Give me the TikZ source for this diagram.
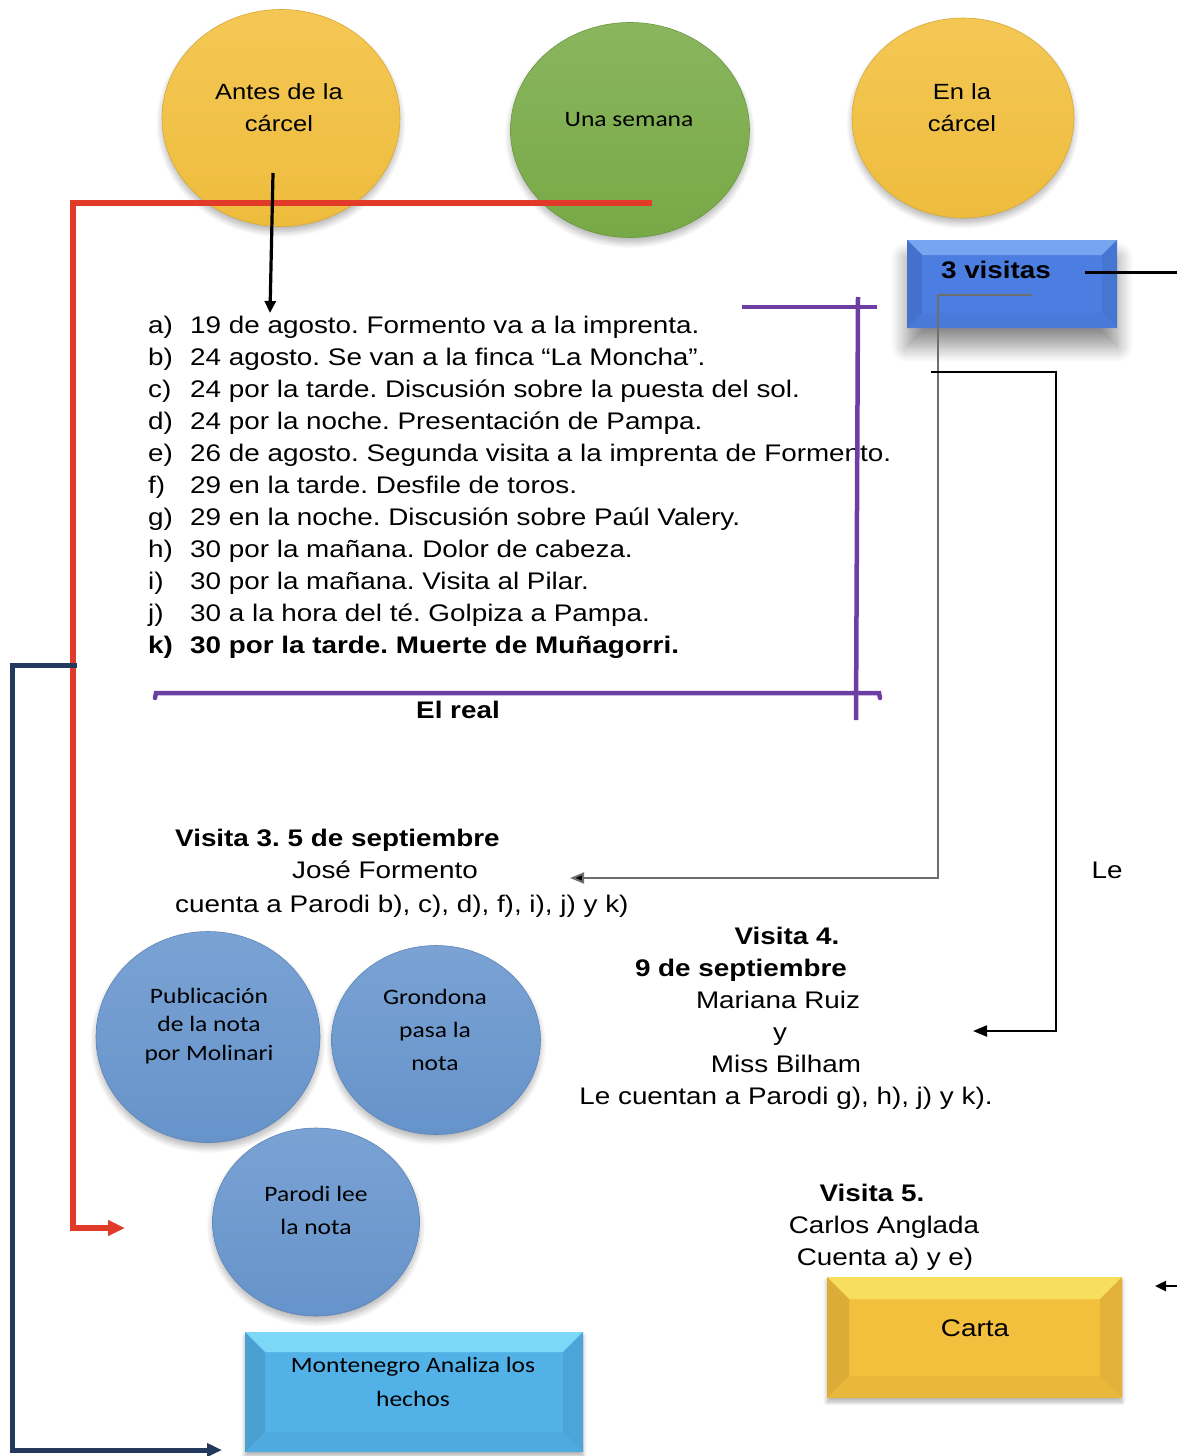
\documentclass[tikz,border=0pt]{standalone}
\usepackage{fontspec}
\setmainfont{Liberation Sans}[FakeStretch=1.16]
\newfontfamily\calib{Carlito}[FakeStretch=1.16]
\usetikzlibrary{shapes.geometric,arrows.meta,shadows.blur}
\frenchspacing

\definecolor{gold}{RGB}{243,192,62}
\definecolor{goldtop}{RGB}{247,222,92}
\definecolor{leaf}{RGB}{122,172,72}
\definecolor{royal}{RGB}{76,126,226}
\definecolor{royaltop}{RGB}{120,165,240}
\definecolor{steel}{RGB}{104,150,206}
\definecolor{sky}{RGB}{82,178,232}
\definecolor{skytop}{RGB}{125,216,248}
\definecolor{redln}{RGB}{226,58,40}
\definecolor{navy}{RGB}{36,57,94}
\definecolor{violet}{RGB}{108,62,164}
\definecolor{greyln}{RGB}{110,110,110}

\tikzset{
  orb/.style={ellipse, inner sep=0pt, draw=#1!88!black, line width=0.6pt,
    top color=#1!88!white, bottom color=#1!98!black,
    blur shadow={shadow xshift=0pt, shadow yshift=-5pt, shadow blur radius=6pt,
      shadow blur steps=8, shadow opacity=30}},
  bevel/.style n args={3}{rectangle, inner sep=0pt, fill=#1,
    path picture={
      \fill[#2] (path picture bounding box.north west) -- (path picture bounding box.north east)
        -- ([xshift=-#3,yshift=-#3]path picture bounding box.north east)
        -- ([xshift=#3,yshift=-#3]path picture bounding box.north west) -- cycle;
      \fill[#1!90!black] (path picture bounding box.north west)
        -- ([xshift=#3,yshift=-#3]path picture bounding box.north west)
        -- ([xshift=#3,yshift=#3]path picture bounding box.south west)
        -- (path picture bounding box.south west) -- cycle;
      \fill[#1!93!black] (path picture bounding box.north east)
        -- (path picture bounding box.south east)
        -- ([xshift=-#3,yshift=#3]path picture bounding box.south east)
        -- ([xshift=-#3,yshift=-#3]path picture bounding box.north east) -- cycle;
      \fill[#1!96!black] (path picture bounding box.south west)
        -- ([xshift=#3,yshift=#3]path picture bounding box.south west)
        -- ([xshift=-#3,yshift=#3]path picture bounding box.south east)
        -- (path picture bounding box.south east) -- cycle;
    }},
  txt/.style={inner sep=0pt, font=\fontsize{24}{32}\selectfont},
  btxt/.style={inner sep=0pt, font=\fontsize{24}{32}\selectfont\bfseries},
  otxt/.style={inner sep=0pt, align=center, font=\fontsize{22}{32}\selectfont},
  ctxt/.style={inner sep=0pt, align=center, font=\calib\fontsize{22}{#1}\selectfont},
  ctxt/.default=32,
  heavy/.style={line width=#1, line join=miter},
}

\begin{document}
\begin{tikzpicture}[x=1pt,y=-1pt]
\useasboundingbox (0,0) rectangle (1177,1456);

% --- phase circles ---
\node[orb=gold, minimum width=238pt, minimum height=217pt] (antes) at (281,118) {};
\node[orb=leaf, minimum width=239pt, minimum height=215pt] (semana) at (630,130) {};
\node[orb=gold, minimum width=222pt, minimum height=200pt] (enla) at (963,118) {};
\node[otxt] (antesT) at (279,108) {Antes de la\\cárcel};
\node[ctxt] (semanaT) at (629,120) {Una semana};
\node[otxt] (enlaT) at (962,108) {En la\\cárcel};

% --- 3 visitas box ---
\node[bevel={royal}{royaltop}{15pt}, minimum width=210pt, minimum height=88pt,
  blur shadow={shadow xshift=0pt, shadow yshift=-18pt, shadow blur radius=16pt,
  shadow blur steps=14, shadow opacity=45}] (visitas) at (1012,284) {};
\node[btxt, anchor=base] (visitasT) at (996,278) {3 visitas};

% --- list of events ---
\foreach \lab/\txt [count=\i from 0] in {
  a)/19 de agosto. Formento va a la imprenta.,
  b)/24 agosto. Se van a la finca “La Moncha”.,
  c)/24 por la tarde. Discusión sobre la puesta del sol.,
  d)/24 por la noche. Presentación de Pampa.,
  e)/26 de agosto. Segunda visita a la imprenta de Formento.,
  f)/29 en la tarde. Desfile de toros.,
  g)/29 en la noche. Discusión sobre Paúl Valery.,
  h)/30 por la mañana. Dolor de cabeza.,
  i)/30 por la mañana. Visita al Pilar.,
  j)/30 a la hora del té. Golpiza a Pampa.}
  \node[txt, anchor=base west] (item\i) at (148,{333+32*\i}) {\makebox[42pt][l]{\lab}\txt};
\node[btxt, anchor=base west] (itemk) at (148,653) {\makebox[42pt][l]{k)}30 por la tarde. Muerte de Muñagorri.};
\node[btxt, anchor=base] (real) at (458,718) {El real};

% --- visits ---
\node[btxt, anchor=base west] (v3a) at (175,846) {Visita 3. 5 de septiembre};
\node[txt, anchor=base] (v3b) at (385,878) {José Formento};
\node[txt, anchor=base west] (v3c) at (175,912) {cuenta a Parodi b), c), d), f), i), j) y k)};

\node[btxt, anchor=base] (v4a) at (787,944) {Visita 4.};
\node[btxt, anchor=base] (v4b) at (741,976) {9 de septiembre};
\node[txt, anchor=base] (v4c) at (778,1008) {Mariana Ruiz};
\node[txt, anchor=base] (v4d) at (780,1040) {y};
\node[txt, anchor=base] (v4e) at (786,1072) {Miss Bilham};
\node[txt, anchor=base] (v4f) at (786,1104) {Le cuentan a Parodi g), h), j) y k).};

\node[txt, anchor=base] (le) at (1107,878) {Le};

\node[btxt, anchor=base] (v5a) at (872,1201) {Visita 5.};
\node[txt, anchor=base] (v5b) at (884,1233) {Carlos Anglada};
\node[txt, anchor=base] (v5c) at (885,1265) {Cuenta a) y e)};

% --- note circles ---
\node[orb=steel, minimum width=224pt, minimum height=211pt] (publ) at (208,1037) {};
\node[orb=steel, minimum width=209pt, minimum height=189pt] (grond) at (436,1040) {};
\node[orb=steel, minimum width=207pt, minimum height=188pt] (parodi) at (316,1222) {};
\node[ctxt=28.5] (publT) at (209,1026) {Publicación\\de la nota\\por Molinari};
\node[ctxt=33] (grondT) at (435,1030) {Grondona\\pasa la\\nota};
\node[ctxt=33] (parodiT) at (316,1210) {Parodi lee\\la nota};

% --- bottom boxes ---
\node[bevel={sky}{skytop}{20pt}, minimum width=338pt, minimum height=120pt,
  blur shadow={shadow xshift=0pt, shadow yshift=-4pt, shadow blur radius=4pt,
  shadow blur steps=6, shadow opacity=30}] (monte) at (414,1392) {};
\node[ctxt=34] (monteT) at (413,1382) {Montenegro Analiza los\\hechos};

\node[bevel={gold}{goldtop}{22pt}, minimum width=295pt, minimum height=121pt,
  blur shadow={shadow xshift=0pt, shadow yshift=-4pt, shadow blur radius=4pt,
  shadow blur steps=6, shadow opacity=30}] (carta) at (974.5,1337.5) {};
\node[txt, anchor=base] (cartaT) at (975,1336) {Carta};

% --- connectors ---
\coordinate (redS) at (652,203);
\coordinate (redE) at (125,1228);
\draw[redln, heavy=6pt, -{Triangle[length=17pt,width=15pt]}] (redS) -- (73,203) -- (73,1228) -- (redE);

\coordinate (blkS) at (273,173);
\coordinate (blkE) at (270,313);
\draw[black, heavy=3.2pt, -{Triangle[length=12pt,width=11pt]}] (blkS) -- (blkE);

\coordinate (navS) at (77,665);
\coordinate (navE) at (222,1450);
\draw[navy, heavy=5pt, -{Triangle[length=15pt,width=13pt]}] (navS) -- (12,665) -- (12,1450) -- (navE);

\coordinate (gS) at (1032,295);
\coordinate (gE) at (570,878);
\draw[greyln, line width=2pt, -{Triangle[length=14pt,width=11pt,fill=black]}] (gS) -- (938,295) -- (938,878) -- (gE);

\coordinate (bS) at (931,372);
\coordinate (bE) at (973,1031);
\draw[black, line width=2.2pt, -{Triangle[length=14pt,width=11pt]}] (bS) -- (1056,372) -- (1056,1031) -- (bE);

\coordinate (visR) at (1085,272);
\coordinate (visRend) at (1177,272);
\draw[black, line width=3pt] (visR) -- (visRend);

\coordinate (cartaS) at (1177,1286);
\coordinate (cartaE) at (1155,1286);
\draw[black, line width=2.5pt, -{Triangle[length=11pt,width=10pt]}] (cartaS) -- (cartaE);

% --- bracket around the real sequence ---
\draw[violet, line width=4.5pt] (742,307) -- (877,307);
\draw[violet, line width=4.5pt] (858,297) -- (856,720);
\draw[violet, line width=4.5pt, line cap=round] (155,698) -- (156,693) -- (879,693) -- (880,698);
\end{tikzpicture}
\end{document}
